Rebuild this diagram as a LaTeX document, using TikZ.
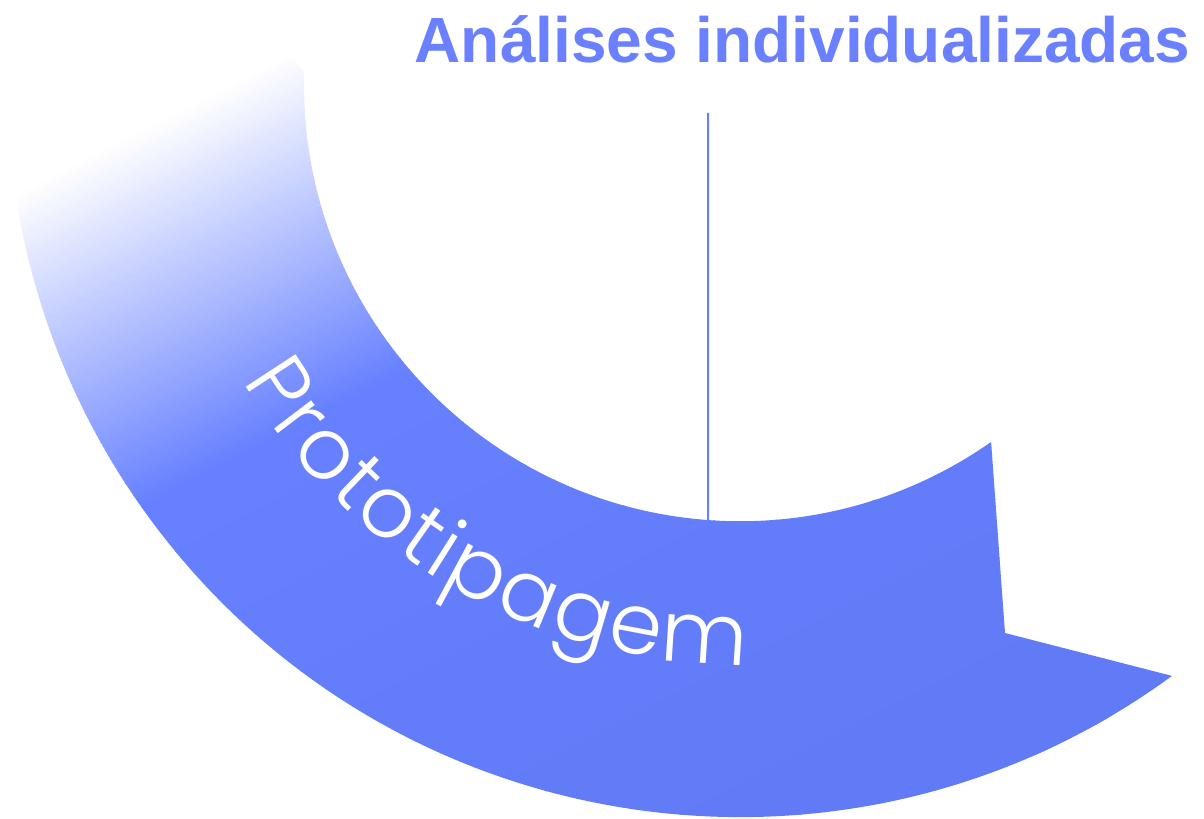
\documentclass[tikz,border=0pt]{standalone}
\usepackage{fontspec}
\setmainfont{Liberation Sans}
\newfontfamily\arcfont{Poppins Light}
\usetikzlibrary{calc,decorations.text}
\definecolor{bandA}{HTML}{6680FF}
\definecolor{bandB}{HTML}{5F78F2}
\definecolor{titleblue}{HTML}{6A80FF}
\definecolor{lineblue}{HTML}{6A80FF}
\tikzset{
  titletext/.style={anchor=base west, inner sep=0pt, text=titleblue,
    font=\fontsize{18.2}{22}\selectfont\bfseries},
  guideline/.style={draw=lineblue, line width=0.02cm},
}
\newcommand\bandshape{(capB) -- (capC) arc[start angle=178.3, end angle=305.1, radius=4.36cm]
  -- (notch) -- (tip) arc[start angle=306.17, end angle=188.7, radius=7.32cm] -- cycle}
\begin{document}
\begin{tikzpicture}[x=0.01cm, y=0.01cm]
\useasboundingbox (0,0) rectangle (1204,818);
\coordinate (C) at (740,733);
\coordinate (capA) at ($(C)+(188.7:732)$);
\coordinate (capB) at (290,763);
\coordinate (capC) at ($(C)+(178.3:436)$);
\coordinate (notch) at (1005,185);
\coordinate (tip) at ($(C)+(306.17:732)$);
\coordinate (lineTop) at (708,705);
\coordinate (lineBot) at ($(C)+(265.79:436)$);

% guide line
\draw[guideline] (lineTop) -- (lineBot);

% band with gradient (non-stacked strips)
\begin{scope}
  \clip \bandshape;
  \begin{scope}[shift={(capA)}, rotate=27.18]
    \fill[bandA!0.5!white] (-400,200) rectangle (1600,-0.8);
    \foreach \k in {1,...,70} {
      \pgfmathsetmacro\sa{(\k-1)/70*335-0.8}
      \pgfmathsetmacro\sb{\k/70*335}
      \pgfmathsetmacro\p{(\k-0.5)/70*100}
      \fill[bandA!\p!white] (-400,-\sa) rectangle (1600,-\sb);
    }
    \foreach \k in {1,...,30} {
      \pgfmathsetmacro\sa{335+(\k-1)/30*820-0.8}
      \pgfmathsetmacro\sb{335+\k/30*820}
      \pgfmathsetmacro\p{(\k-0.5)/30*100}
      \fill[bandB!\p!bandA] (-400,-\sa) rectangle (1600,-\sb);
    }
  \end{scope}
\end{scope}

% curved label
\path[decorate, decoration={text along path,
   text={|\arcfont\fontsize{24.2}{29}\selectfont\color{white}|Prototipagem},
   text align=fit to path}]
  ($(C)+(210.8:579)$) arc[start angle=210.8, end angle=270.6, radius=5.79cm];

% title
\node[titletext] (title) at (414,755) {Análises individualizadas};
\end{tikzpicture}
\end{document}
